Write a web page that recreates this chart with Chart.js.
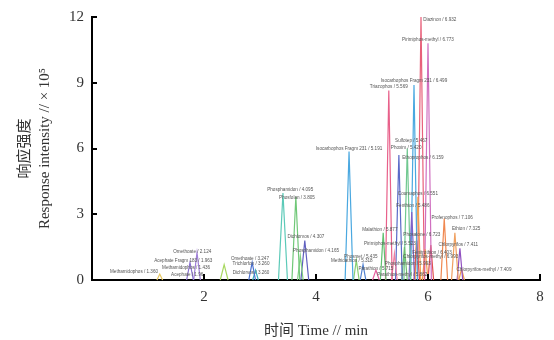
<!DOCTYPE html>
<html>
<head>
<meta charset="utf-8">
<script src="https://cdn.jsdelivr.net/npm/chart.js@4"></script>
<style>
  body { margin: 0; background: #fff; }
</style>
</head>
<body>
<canvas id="chrom" width="554" height="340"></canvas>
<script>
// retention time (min), response (x10^5), colour of each peak trace
var peakTimes   = [1.21, 1.75, 1.875, 2.36, 2.86, 2.92, 3.41, 3.64, 3.72, 3.80, 4.59, 4.72, 4.84, 5.07, 5.20, 5.30, 5.40, 5.48, 5.58, 5.63, 5.71, 5.75, 5.80, 5.82, 5.875, 5.95, 6.00, 6.05, 6.29, 6.48, 6.57, 6.60];
var peakHeights = [0.27, 0.8, 1.25, 0.7, 0.8, 0.45, 3.97, 3.8, 1.1, 1.8, 5.86, 0.9, 0.7, 0.45, 2.15, 8.65, 1.2, 5.7, 1.5, 6.0, 3.1, 8.9, 1.8, 3.8, 12.0, 1.4, 10.8, 1.6, 2.8, 2.15, 1.45, 0.5];
var peakWidths  = [0.05, 0.06, 0.06, 0.07, 0.06, 0.05, 0.08, 0.07, 0.05, 0.07, 0.07, 0.05, 0.05, 0.06, 0.05, 0.06, 0.05, 0.06, 0.05, 0.06, 0.05, 0.06, 0.05, 0.05, 0.06, 0.05, 0.06, 0.05, 0.06, 0.06, 0.05, 0.05];
var peakColors  = ['#e8c860', '#8a70d0', '#a080d8', '#a8d860', '#4a70d0', '#40b0c0', '#5ccab8', '#70c878', '#80d080', '#6060c0',
                   '#4aa8e0', '#88d070', '#5080d0', '#e860a0', '#60c070', '#e8608a', '#f080a0', '#5a6ac8', '#70c070', '#70c890',
                   '#8060c8', '#4aa8e0', '#e05050', '#f0a050', '#e8607a', '#f0a050', '#d070c0', '#e05050', '#f08850', '#f0a060',
                   '#9050c0', '#f0a050'];

// compound annotations: text, time and level where the text sits
var labelText = [
  'Diazinon / 6.932', 'Pirimiphos-methyl / 6.773', 'Isocarbophos Fragm 231 / 6.499', 'Triazophos / 5.569',
  'Isocarbophos Fragm 231 / 5.191', 'Sulfotep / 5.467', 'Phoxim / 5.420', 'Ethoprophos / 6.159',
  'Coumaphos / 6.551', 'Fenthion / 5.486', 'Profenophos / 7.106', 'Ethion / 7.325',
  'Phosalone / 6.723', 'Chlorpyrifos / 7.411', 'Chlorpyrifos-methyl / 7.409', 'Malathion / 5.877',
  'Pirimiphos-methyl / 5.523', 'Fenitrothion / 6.403', 'Chlorpyrifos-methyl / 6.993', 'Phosphamidon / 5.993',
  'Parathion-methyl / 5.862', 'Phosmet / 5.435', 'Methidathion / 5.318', 'Parathion / 5.715',
  'Phosphamidon / 4.095', 'Phosfolan / 3.805', 'Dichlorvos / 4.307', 'Phosphamidon / 4.165',
  'Omethoate / 3.247', 'Trichlorfon / 3.260', 'Dichlorvos / 3.260', 'Omethoate / 2.124',
  'Acephate Fragm 183 / 1.963', 'Methamidophos / 1.436', 'Acephate / 1.96', 'Methamidophos / 1.360'
];
var labelTime  = [6.21, 6.0, 5.75, 5.30, 4.59, 5.70, 5.61, 5.91, 5.82, 5.73, 6.43, 6.68, 5.89, 6.54, 7.0, 5.14, 5.32, 6.07, 6.05, 5.64, 5.54, 4.80, 4.64, 5.07, 3.54, 3.66, 3.82, 4.0, 2.82, 2.84, 2.84, 1.79, 1.63, 1.68, 1.70, 0.75];
var labelLevel = [11.86, 10.96, 9.11, 8.8, 6.0, 6.36, 6.04, 5.59, 3.92, 3.38, 2.84, 2.35, 2.07, 1.62, 0.45, 2.30, 1.67, 1.26, 1.04, 0.72, 0.23, 1.04, 0.86, 0.50, 4.10, 3.74, 1.98, 1.35, 0.95, 0.72, 0.32, 1.31, 0.90, 0.54, 0.23, 0.36];

var xTicks = [2, 4, 6, 8];
var yTicks = [3, 6, 9, 12];

var serif = "'Liberation Serif', 'Noto Sans CJK SC', serif";

function buildPeaks() {
    var sets = [];
    for (var i = 0; i < peakTimes.length; i++) {
        sets.push({
            data: [
                {x: peakTimes[i] - peakWidths[i], y: 0},
                {x: peakTimes[i], y: peakHeights[i]},
                {x: peakTimes[i] + peakWidths[i], y: 0}
            ],
            borderColor: peakColors[i],
            borderWidth: 1.2,
            pointRadius: 0,
            tension: 0,
            fill: false,
            clip: false
        });
    }
    return sets;
}

// small compound names next to the peaks
var peakLabels = {
    id: 'peakLabels',
    afterDatasetsDraw(chart) {
        var ctx = chart.ctx;
        var xs = chart.scales.x, ys = chart.scales.y;
        ctx.save();
        ctx.font = "4.6px 'Liberation Sans', Arial, sans-serif";
        ctx.fillStyle = '#555';
        ctx.textAlign = 'center';
        ctx.textBaseline = 'middle';
        for (var i = 0; i < labelText.length; i++) {
            ctx.fillText(labelText[i], xs.getPixelForValue(labelTime[i]), ys.getPixelForValue(labelLevel[i]));
        }
        ctx.restore();
    }
};

// tick marks pointing into the plot
var innerTicks = {
    id: 'innerTicks',
    afterDraw(chart) {
        var ctx = chart.ctx;
        var xs = chart.scales.x, ys = chart.scales.y;
        var area = chart.chartArea;
        ctx.save();
        ctx.strokeStyle = '#000';
        ctx.lineWidth = 2;
        ctx.beginPath();
        xTicks.forEach(function (v) {
            var px = Math.round(xs.getPixelForValue(v));
            ctx.moveTo(px, area.bottom);
            ctx.lineTo(px, area.bottom - 6);
        });
        yTicks.forEach(function (v) {
            var py = Math.round(ys.getPixelForValue(v));
            ctx.moveTo(area.left, py);
            ctx.lineTo(area.left + 5, py);
        });
        ctx.stroke();
        ctx.restore();
    }
};

window.addEventListener('DOMContentLoaded', function () {
    new Chart(document.getElementById('chrom'), {
        type: 'line',
        data: { datasets: buildPeaks() },
        options: {
            responsive: false,
            animation: false,
            layout: { padding: { top: 14, right: 14, left: 0, bottom: 0 } },
            plugins: { legend: { display: false }, tooltip: { enabled: false } },
            scales: {
                x: {
                    type: 'linear',
                    min: 0,
                    max: 8,
                    afterFit: function (s) { s.height = 60; },
                    grid: { display: false, drawTicks: false },
                    border: { display: true, color: '#000', width: 2 },
                    ticks: {
                        stepSize: 2,
                        padding: 8,
                        color: '#333',
                        font: { family: serif, size: 15 },
                        callback: function (v) { return v === 0 ? '' : v; }
                    },
                    title: {
                        display: true,
                        text: '时间 Time // min',
                        color: '#333',
                        font: { family: serif, size: 15 },
                        padding: { top: 5, bottom: 0 }
                    }
                },
                y: {
                    min: 0,
                    max: 12,
                    afterFit: function (s) { s.width = 92; },
                    grid: { display: false, drawTicks: false },
                    border: { display: true, color: '#000', width: 2 },
                    ticks: {
                        stepSize: 3,
                        padding: 8,
                        color: '#333',
                        font: { family: serif, size: 15 }
                    },
                    title: {
                        display: true,
                        text: ['响应强度', 'Response intensity // × 10⁵'],
                        color: '#333',
                        font: { family: serif, size: 15, lineHeight: 1.33 },
                        padding: { top: 15, bottom: 0 }
                    }
                }
            }
        },
        plugins: [peakLabels, innerTicks]
    });
});
</script>
</body>
</html>
